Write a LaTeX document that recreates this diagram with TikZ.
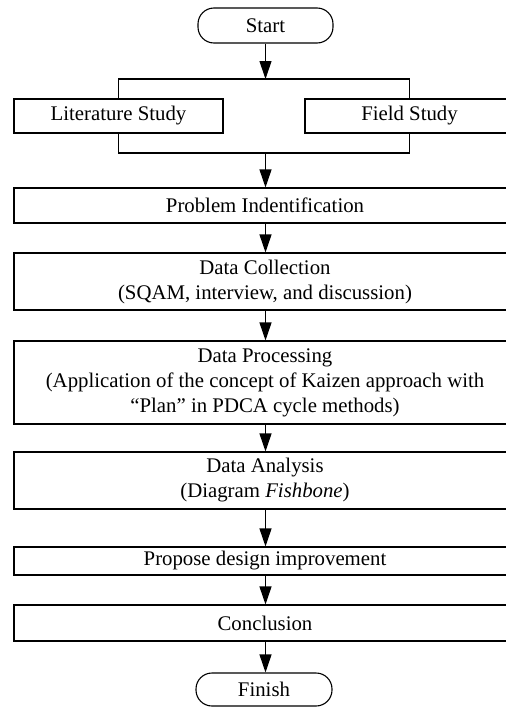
\documentclass[tikz,border=0pt]{standalone}
\usepackage{fontspec}
\setmainfont{Liberation Serif}
\usetikzlibrary{arrows.meta}
\begin{document}
\begin{tikzpicture}[x=1pt,y=-1pt,
  every node/.style={font=\fontsize{20.8}{25}\selectfont},
  box/.style={draw, line width=1.1pt, inner sep=0pt, align=center, minimum width=502pt},
  sidebox/.style={draw, line width=1.1pt, inner sep=0pt, align=center, minimum width=209pt, minimum height=34pt},
  term/.style={draw, line width=1.1pt, rounded corners=16pt, inner sep=0pt, align=center},
  link/.style={line width=1.1pt},
  flow/.style={line width=1.1pt, -{Triangle[length=18pt,width=12pt]}}]
\useasboundingbox (0,0) rectangle (506,707);
\clip (0,0) rectangle (506,707);

% terminators
\node[term, minimum width=135pt, minimum height=35pt] (start) at (265.5,25.5) {Start};
\node[term, minimum width=136pt, minimum height=33pt] (finish) at (264,689.5) {Finish};

% the two parallel studies
\node[sidebox] (lit) at (118.5,116) {Literature Study};
\node[sidebox] (field) at (409.5,116) {Field Study};

% main sequence
\node[box, minimum height=35pt] (prob) at (265,205.5) {Problem Indentification};
\node[box, minimum height=57pt] (coll) at (265,281.5) {Data Collection\\(SQAM, interview, and discussion)};
\node[box, minimum height=83pt] (proc) at (265,382.5) {Data Processing\\(Application of the concept of Kaizen approach with\\“Plan” in PDCA cycle methods)};
\node[box, minimum height=57pt] (anal) at (265,480.5) {Data Analysis\\(Diagram \textit{Fishbone})};
\node[box, minimum height=28pt] (prop) at (265,561) {Propose design improvement};
\node[box, minimum height=36pt] (concl) at (265,623) {Conclusion};

% split and join brackets
\coordinate (splitc) at (start.south |- 0,79);
\coordinate (joinc) at (start.south |- 0,153);
\draw[link] (lit.north) |- (splitc) -| (field.north);
\draw[link] (lit.south) |- (joinc) -| (field.south);

% arrows
\draw[flow] (start.south) -- (splitc);
\draw[flow] (joinc) -- (joinc |- prob.north);
\draw[flow] (prob.south -| joinc) -- (coll.north -| joinc);
\draw[flow] (coll.south -| joinc) -- (proc.north -| joinc);
\draw[flow] (proc.south -| joinc) -- (anal.north -| joinc);
\draw[flow] (anal.south -| joinc) -- (prop.north -| joinc);
\draw[flow] (prop.south -| joinc) -- (concl.north -| joinc);
\draw[flow] (concl.south -| joinc) -- (finish.north -| joinc);
\end{tikzpicture}
\end{document}
